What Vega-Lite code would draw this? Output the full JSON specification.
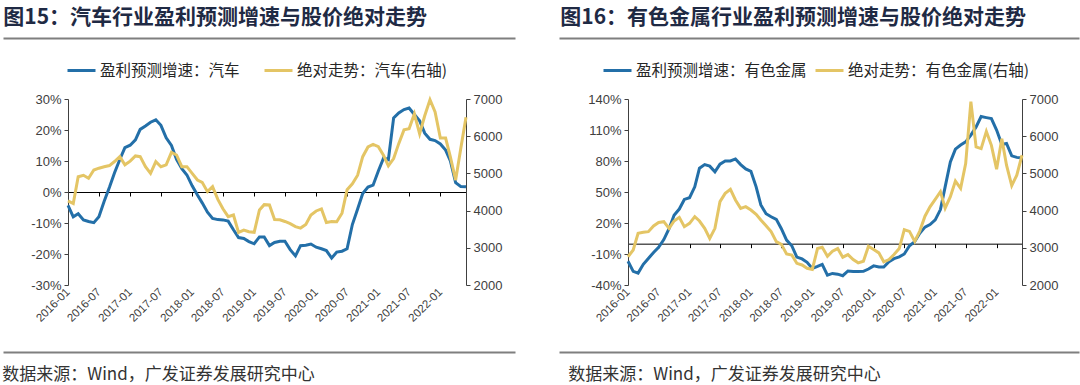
{
  "$schema": "https://vega.github.io/schema/vega-lite/v6.json",
  "padding": {"top": 7, "left": 0, "right": 0, "bottom": 1},
  "datasets": {
    "car": [
      {"date": "2016-01-01", "growth": -4.3, "price": 4260},
      {"date": "2016-02-01", "growth": -8, "price": 4190},
      {"date": "2016-03-01", "growth": -7, "price": 4910},
      {"date": "2016-04-01", "growth": -9, "price": 4950},
      {"date": "2016-05-01", "growth": -9.5, "price": 4870},
      {"date": "2016-06-01", "growth": -9.9, "price": 5090},
      {"date": "2016-07-01", "growth": -8, "price": 5140},
      {"date": "2016-08-01", "growth": -3, "price": 5180},
      {"date": "2016-09-01", "growth": 1.5, "price": 5210},
      {"date": "2016-10-01", "growth": 6.2, "price": 5320},
      {"date": "2016-11-01", "growth": 10.5, "price": 5450},
      {"date": "2016-12-01", "growth": 14.3, "price": 5230},
      {"date": "2017-01-01", "growth": 15.1, "price": 5330},
      {"date": "2017-02-01", "growth": 16.8, "price": 5470},
      {"date": "2017-03-01", "growth": 20.2, "price": 5450},
      {"date": "2017-04-01", "growth": 21.3, "price": 5180},
      {"date": "2017-05-01", "growth": 22.5, "price": 5000},
      {"date": "2017-06-01", "growth": 23.3, "price": 5315},
      {"date": "2017-07-01", "growth": 21.5, "price": 5180},
      {"date": "2017-08-01", "growth": 17.5, "price": 5230},
      {"date": "2017-09-01", "growth": 15, "price": 5566},
      {"date": "2017-10-01", "growth": 10.5, "price": 5495},
      {"date": "2017-11-01", "growth": 7.5, "price": 5181},
      {"date": "2017-12-01", "growth": 5.5, "price": 5181},
      {"date": "2018-01-01", "growth": 2, "price": 5000},
      {"date": "2018-02-01", "growth": -1, "price": 4823},
      {"date": "2018-03-01", "growth": -3.5, "price": 4760},
      {"date": "2018-04-01", "growth": -6.5, "price": 4509},
      {"date": "2018-05-01", "growth": -8.5, "price": 4643},
      {"date": "2018-06-01", "growth": -8.9, "price": 4300},
      {"date": "2018-07-01", "growth": -9, "price": 4050},
      {"date": "2018-08-01", "growth": -9.4, "price": 3837},
      {"date": "2018-09-01", "growth": -12.2, "price": 3882},
      {"date": "2018-10-01", "growth": -14.7, "price": 3416},
      {"date": "2018-11-01", "growth": -15, "price": 3478},
      {"date": "2018-12-01", "growth": -16, "price": 3433},
      {"date": "2019-01-01", "growth": -16.7, "price": 3416},
      {"date": "2019-02-01", "growth": -14.5, "price": 4016},
      {"date": "2019-03-01", "growth": -14.5, "price": 4160},
      {"date": "2019-04-01", "growth": -17.3, "price": 4150},
      {"date": "2019-05-01", "growth": -16.3, "price": 3760},
      {"date": "2019-06-01", "growth": -15.9, "price": 3753},
      {"date": "2019-07-01", "growth": -15.9, "price": 3708},
      {"date": "2019-08-01", "growth": -18.6, "price": 3650},
      {"date": "2019-09-01", "growth": -20.6, "price": 3570},
      {"date": "2019-10-01", "growth": -17.3, "price": 3530},
      {"date": "2019-11-01", "growth": -17.2, "price": 3630},
      {"date": "2019-12-01", "growth": -16.8, "price": 3880},
      {"date": "2020-01-01", "growth": -17.8, "price": 3990},
      {"date": "2020-02-01", "growth": -18.3, "price": 4046},
      {"date": "2020-03-01", "growth": -18.9, "price": 3680},
      {"date": "2020-04-01", "growth": -21.3, "price": 3708},
      {"date": "2020-05-01", "growth": -19.4, "price": 3700},
      {"date": "2020-06-01", "growth": -19.1, "price": 3931},
      {"date": "2020-07-01", "growth": -18.3, "price": 4560},
      {"date": "2020-08-01", "growth": -10.5, "price": 4720},
      {"date": "2020-09-01", "growth": -5.5, "price": 4950},
      {"date": "2020-10-01", "growth": -0.5, "price": 5450},
      {"date": "2020-11-01", "growth": 1.6, "price": 5710},
      {"date": "2020-12-01", "growth": 2.2, "price": 5780},
      {"date": "2021-01-01", "growth": 6.8, "price": 5720},
      {"date": "2021-02-01", "growth": 11, "price": 5480},
      {"date": "2021-03-01", "growth": 10.4, "price": 5203},
      {"date": "2021-04-01", "growth": 23.9, "price": 5399},
      {"date": "2021-05-01", "growth": 25.5, "price": 5800},
      {"date": "2021-06-01", "growth": 26.6, "price": 6170},
      {"date": "2021-07-01", "growth": 27.1, "price": 6199},
      {"date": "2021-08-01", "growth": 25, "price": 6600},
      {"date": "2021-09-01", "growth": 23, "price": 6066},
      {"date": "2021-10-01", "growth": 19, "price": 6550},
      {"date": "2021-11-01", "growth": 17, "price": 6980},
      {"date": "2021-12-01", "growth": 16.6, "price": 6650},
      {"date": "2022-01-01", "growth": 15.5, "price": 5950},
      {"date": "2022-02-01", "growth": 13.5, "price": 5950},
      {"date": "2022-03-01", "growth": 10, "price": 5443},
      {"date": "2022-04-01", "growth": 3, "price": 4820},
      {"date": "2022-05-01", "growth": 1.8, "price": 5665},
      {"date": "2022-06-01", "growth": 1.7, "price": 6511}
    ],
    "metal": [
      {"date": "2016-01-01", "growth": -17, "price": 2760},
      {"date": "2016-02-01", "growth": -26.8, "price": 2940},
      {"date": "2016-03-01", "growth": -28.5, "price": 3390},
      {"date": "2016-04-01", "growth": -20, "price": 3416},
      {"date": "2016-05-01", "growth": -14.3, "price": 3434},
      {"date": "2016-06-01", "growth": -8.5, "price": 3586},
      {"date": "2016-07-01", "growth": -3.5, "price": 3680},
      {"date": "2016-08-01", "growth": 4, "price": 3703},
      {"date": "2016-09-01", "growth": 14.5, "price": 3523},
      {"date": "2016-10-01", "growth": 27.5, "price": 3720},
      {"date": "2016-11-01", "growth": 33.5, "price": 3819},
      {"date": "2016-12-01", "growth": 42.8, "price": 3568},
      {"date": "2017-01-01", "growth": 44.5, "price": 3658},
      {"date": "2017-02-01", "growth": 55, "price": 3837},
      {"date": "2017-03-01", "growth": 73, "price": 3720},
      {"date": "2017-04-01", "growth": 76.5, "price": 3523},
      {"date": "2017-05-01", "growth": 75, "price": 3254},
      {"date": "2017-06-01", "growth": 69.5, "price": 3523},
      {"date": "2017-07-01", "growth": 77, "price": 4240},
      {"date": "2017-08-01", "growth": 80.1, "price": 4464},
      {"date": "2017-09-01", "growth": 80, "price": 4572},
      {"date": "2017-10-01", "growth": 82, "price": 4285},
      {"date": "2017-11-01", "growth": 76.5, "price": 4061},
      {"date": "2017-12-01", "growth": 72.3, "price": 4106},
      {"date": "2018-01-01", "growth": 70, "price": 4016},
      {"date": "2018-02-01", "growth": 55, "price": 3900},
      {"date": "2018-03-01", "growth": 37.5, "price": 3747},
      {"date": "2018-04-01", "growth": 29, "price": 3595},
      {"date": "2018-05-01", "growth": 26, "price": 3434},
      {"date": "2018-06-01", "growth": 23.5, "price": 3165},
      {"date": "2018-07-01", "growth": 14.5, "price": 3093},
      {"date": "2018-08-01", "growth": 3.5, "price": 2833},
      {"date": "2018-09-01", "growth": -2, "price": 2806},
      {"date": "2018-10-01", "growth": -13, "price": 2582},
      {"date": "2018-11-01", "growth": -14.8, "price": 2538},
      {"date": "2018-12-01", "growth": -18, "price": 2448},
      {"date": "2019-01-01", "growth": -24, "price": 2420},
      {"date": "2019-02-01", "growth": -22, "price": 2980},
      {"date": "2019-03-01", "growth": -20, "price": 3014},
      {"date": "2019-04-01", "growth": -30.5, "price": 2774},
      {"date": "2019-05-01", "growth": -28.8, "price": 2907},
      {"date": "2019-06-01", "growth": -29.5, "price": 2979},
      {"date": "2019-07-01", "growth": -31, "price": 2747},
      {"date": "2019-08-01", "growth": -26.4, "price": 2818},
      {"date": "2019-09-01", "growth": -26.9, "price": 2685},
      {"date": "2019-10-01", "growth": -26.9, "price": 2596},
      {"date": "2019-11-01", "growth": -26.8, "price": 2640},
      {"date": "2019-12-01", "growth": -24.5, "price": 3041},
      {"date": "2020-01-01", "growth": -21.5, "price": 2952},
      {"date": "2020-02-01", "growth": -22.5, "price": 2863},
      {"date": "2020-03-01", "growth": -22.6, "price": 2623},
      {"date": "2020-04-01", "growth": -17.5, "price": 2685},
      {"date": "2020-05-01", "growth": -14.5, "price": 2818},
      {"date": "2020-06-01", "growth": -12.8, "price": 2979},
      {"date": "2020-07-01", "growth": -10, "price": 3486},
      {"date": "2020-08-01", "growth": -2, "price": 3441},
      {"date": "2020-09-01", "growth": 2, "price": 3174},
      {"date": "2020-10-01", "growth": 10, "price": 3450},
      {"date": "2020-11-01", "growth": 16, "price": 3850},
      {"date": "2020-12-01", "growth": 18.5, "price": 4100},
      {"date": "2021-01-01", "growth": 23, "price": 4300},
      {"date": "2021-02-01", "growth": 33, "price": 4509},
      {"date": "2021-03-01", "growth": 55, "price": 4064},
      {"date": "2021-04-01", "growth": 79, "price": 4375},
      {"date": "2021-05-01", "growth": 91.5, "price": 4794},
      {"date": "2021-06-01", "growth": 95.5, "price": 4598},
      {"date": "2021-07-01", "growth": 98.5, "price": 5265},
      {"date": "2021-08-01", "growth": 105, "price": 6929},
      {"date": "2021-09-01", "growth": 113, "price": 5710},
      {"date": "2021-10-01", "growth": 123, "price": 5665},
      {"date": "2021-11-01", "growth": 122, "price": 6128},
      {"date": "2021-12-01", "growth": 121, "price": 5754},
      {"date": "2022-01-01", "growth": 110, "price": 5114},
      {"date": "2022-02-01", "growth": 96, "price": 5932},
      {"date": "2022-03-01", "growth": 97, "price": 5221},
      {"date": "2022-04-01", "growth": 85, "price": 4669},
      {"date": "2022-05-01", "growth": 83.5, "price": 4954},
      {"date": "2022-06-01", "growth": 83, "price": 5488}
    ]
  },
  "config": {
    "view": {"stroke": null},
    "font": "Noto Sans CJK SC",
    "axis": {
      "labelFont": "Liberation Sans",
      "labelFontSize": 13,
      "labelColor": "#404040",
      "domainColor": "#404040",
      "tickColor": "#404040",
      "grid": false,
      "title": null
    },
    "legend": {
      "labelFont": "Noto Sans CJK SC",
      "labelFontSize": 15.5,
      "labelColor": "#262626",
      "labelLimit": 400,
      "symbolType": "stroke",
      "symbolSize": 784,
      "symbolStrokeWidth": 3,
      "labelOffset": 3,
      "title": null
    }
  },
  "resolve": {"scale": {"color": "independent"}, "legend": {"color": "independent"}},
  "spacing": -24,
  "hconcat": [
    {
      "bounds": "flush",
      "spacing": 61,
      "resolve": {"scale": {"color": "independent"}, "legend": {"color": "independent"}},
      "vconcat": [
        {
          "width": 398,
          "height": 10,
          "data": {"values": [{}]},
          "mark": {"type": "point", "opacity": 0},
          "encoding": {
            "x": {"datum": 0, "type": "quantitative", "scale": {"domain": [0, 1], "range": [-65, 447]}, "axis": {"orient": "bottom", "domainColor": "#7f7f7f", "domainWidth": 2, "ticks": false, "labels": false}}
          },
          "title": {"text": "图15：汽车行业盈利预测增速与股价绝对走势", "anchor": "start", "frame": "bounds", "dx": 3, "offset": -21, "baseline": "bottom", "fontSize": 21, "fontWeight": "bold", "color": "#1f2a44", "font": "Noto Sans CJK SC"}
        },
        {
          "width": 398,
          "height": 186,
          "data": {"name": "car"},
          "layer": [
            {
              "mark": {"type": "line", "strokeWidth": 3},
              "encoding": {
                "x": {"field": "date", "type": "temporal",
                  "scale": {"type": "utc", "domain": [{"year": 2016, "month": 1, "date": 1, "utc": true}, {"year": 2022, "month": 6, "date": 1, "utc": true}]},
                  "axis": {"orient": "bottom", "domain": false, "ticks": false, "labelAngle": -45, "labelAlign": "right", "labelBaseline": "middle", "labelPadding": 5, "format": "%Y-%m", "tickCount": {"interval": "month", "step": 6}, "labelFontSize": 11.5, "labelOverlap": false}},
                "y": {"field": "growth", "type": "quantitative", "scale": {"domain": [-30, 30], "nice": false}, "axis": {"orient": "left", "values": [-30, -20, -10, 0, 10, 20, 30], "labelExpr": "datum.value + '%'", "tickSize": 4, "labelPadding": 3}},
                "color": {"datum": "盈利预测增速：汽车",
                  "scale": {"domain": ["盈利预测增速：汽车", "绝对走势：汽车(右轴)"], "range": ["#236FA8", "#E4C565"]},
                  "legend": {"orient": "none", "legendX": -2, "legendY": -44, "direction": "horizontal", "columnPadding": 18}}
              }
            },
            {
              "mark": {"type": "line", "strokeWidth": 3},
              "encoding": {
                "x": {"field": "date", "type": "temporal",
                  "axis": {"orient": "bottom", "offset": -93, "labels": false, "domainColor": "#000000", "tickColor": "#000000", "tickSize": 4, "tickCount": {"interval": "month", "step": 6}}},
                "y": {"field": "price", "type": "quantitative", "scale": {"domain": [2000, 7000], "nice": false}, "axis": {"orient": "right", "values": [2000, 3000, 4000, 5000, 6000, 7000], "format": "d", "tickSize": 4, "labelPadding": 3}},
                "color": {"datum": "绝对走势：汽车(右轴)"}
              }
            }
          ],
          "resolve": {"scale": {"y": "independent"}, "axis": {"x": "independent"}}
        },
        {
          "width": 398,
          "height": 6,
          "data": {"values": [{}]},
          "mark": {"type": "point", "opacity": 0},
          "encoding": {
            "x": {"datum": 0, "type": "quantitative", "scale": {"domain": [0, 1], "range": [-65, 447]}, "axis": {"orient": "bottom", "domainColor": "#7f7f7f", "domainWidth": 2, "ticks": false, "labels": false}}
          },
          "title": {"text": "数据来源：Wind，广发证券发展研究中心", "orient": "bottom", "anchor": "start", "frame": "bounds", "dx": 2, "offset": 15, "fontSize": 17, "fontWeight": "normal", "color": "#333333", "font": "Noto Sans CJK SC"}
        }
      ]
    },
    {
      "bounds": "flush",
      "spacing": 61,
      "resolve": {"scale": {"color": "independent"}, "legend": {"color": "independent"}},
      "vconcat": [
        {
          "width": 394,
          "height": 10,
          "data": {"values": [{}]},
          "mark": {"type": "point", "opacity": 0},
          "encoding": {
            "x": {"datum": 0, "type": "quantitative", "scale": {"domain": [0, 1], "range": [-69, 451]}, "axis": {"orient": "bottom", "domainColor": "#7f7f7f", "domainWidth": 2, "ticks": false, "labels": false}}
          },
          "title": {"text": "图16：有色金属行业盈利预测增速与股价绝对走势", "anchor": "start", "frame": "bounds", "dx": 4, "offset": -21, "baseline": "bottom", "fontSize": 21, "fontWeight": "bold", "color": "#1f2a44", "font": "Noto Sans CJK SC"}
        },
        {
          "width": 394,
          "height": 186,
          "data": {"name": "metal"},
          "layer": [
            {
              "mark": {"type": "line", "strokeWidth": 3},
              "encoding": {
                "x": {"field": "date", "type": "temporal",
                  "scale": {"type": "utc", "domain": [{"year": 2016, "month": 1, "date": 1, "utc": true}, {"year": 2022, "month": 6, "date": 1, "utc": true}]},
                  "axis": {"orient": "bottom", "domain": false, "ticks": false, "labelAngle": -45, "labelAlign": "right", "labelBaseline": "middle", "labelPadding": 5, "format": "%Y-%m", "tickCount": {"interval": "month", "step": 6}, "labelFontSize": 11.5, "labelOverlap": false}},
                "y": {"field": "growth", "type": "quantitative", "scale": {"domain": [-40, 140], "nice": false}, "axis": {"orient": "left", "values": [-40, -10, 20, 50, 80, 110, 140], "labelExpr": "datum.value + '%'", "tickSize": 4, "labelPadding": 3}},
                "color": {"datum": "盈利预测增速：有色金属",
                  "scale": {"domain": ["盈利预测增速：有色金属", "绝对走势：有色金属(右轴)"], "range": ["#236FA8", "#E4C565"]},
                  "legend": {"orient": "none", "legendX": -26, "legendY": -44, "direction": "horizontal", "columnPadding": 2}}
              }
            },
            {
              "mark": {"type": "line", "strokeWidth": 3},
              "encoding": {
                "x": {"field": "date", "type": "temporal",
                  "axis": {"orient": "bottom", "offset": -41.33, "labels": false, "domainColor": "#000000", "tickColor": "#000000", "tickSize": 4, "tickCount": {"interval": "month", "step": 6}}},
                "y": {"field": "price", "type": "quantitative", "scale": {"domain": [2000, 7000], "nice": false}, "axis": {"orient": "right", "values": [2000, 3000, 4000, 5000, 6000, 7000], "format": "d", "tickSize": 4, "labelPadding": 3}},
                "color": {"datum": "绝对走势：有色金属(右轴)"}
              }
            }
          ],
          "resolve": {"scale": {"y": "independent"}, "axis": {"x": "independent"}}
        },
        {
          "width": 394,
          "height": 6,
          "data": {"values": [{}]},
          "mark": {"type": "point", "opacity": 0},
          "encoding": {
            "x": {"datum": 0, "type": "quantitative", "scale": {"domain": [0, 1], "range": [-69, 451]}, "axis": {"orient": "bottom", "domainColor": "#7f7f7f", "domainWidth": 2, "ticks": false, "labels": false}}
          },
          "title": {"text": "数据来源：Wind，广发证券发展研究中心", "orient": "bottom", "anchor": "start", "frame": "bounds", "dx": 12, "offset": 15, "fontSize": 17, "fontWeight": "normal", "color": "#333333", "font": "Noto Sans CJK SC"}
        }
      ]
    }
  ]
}
